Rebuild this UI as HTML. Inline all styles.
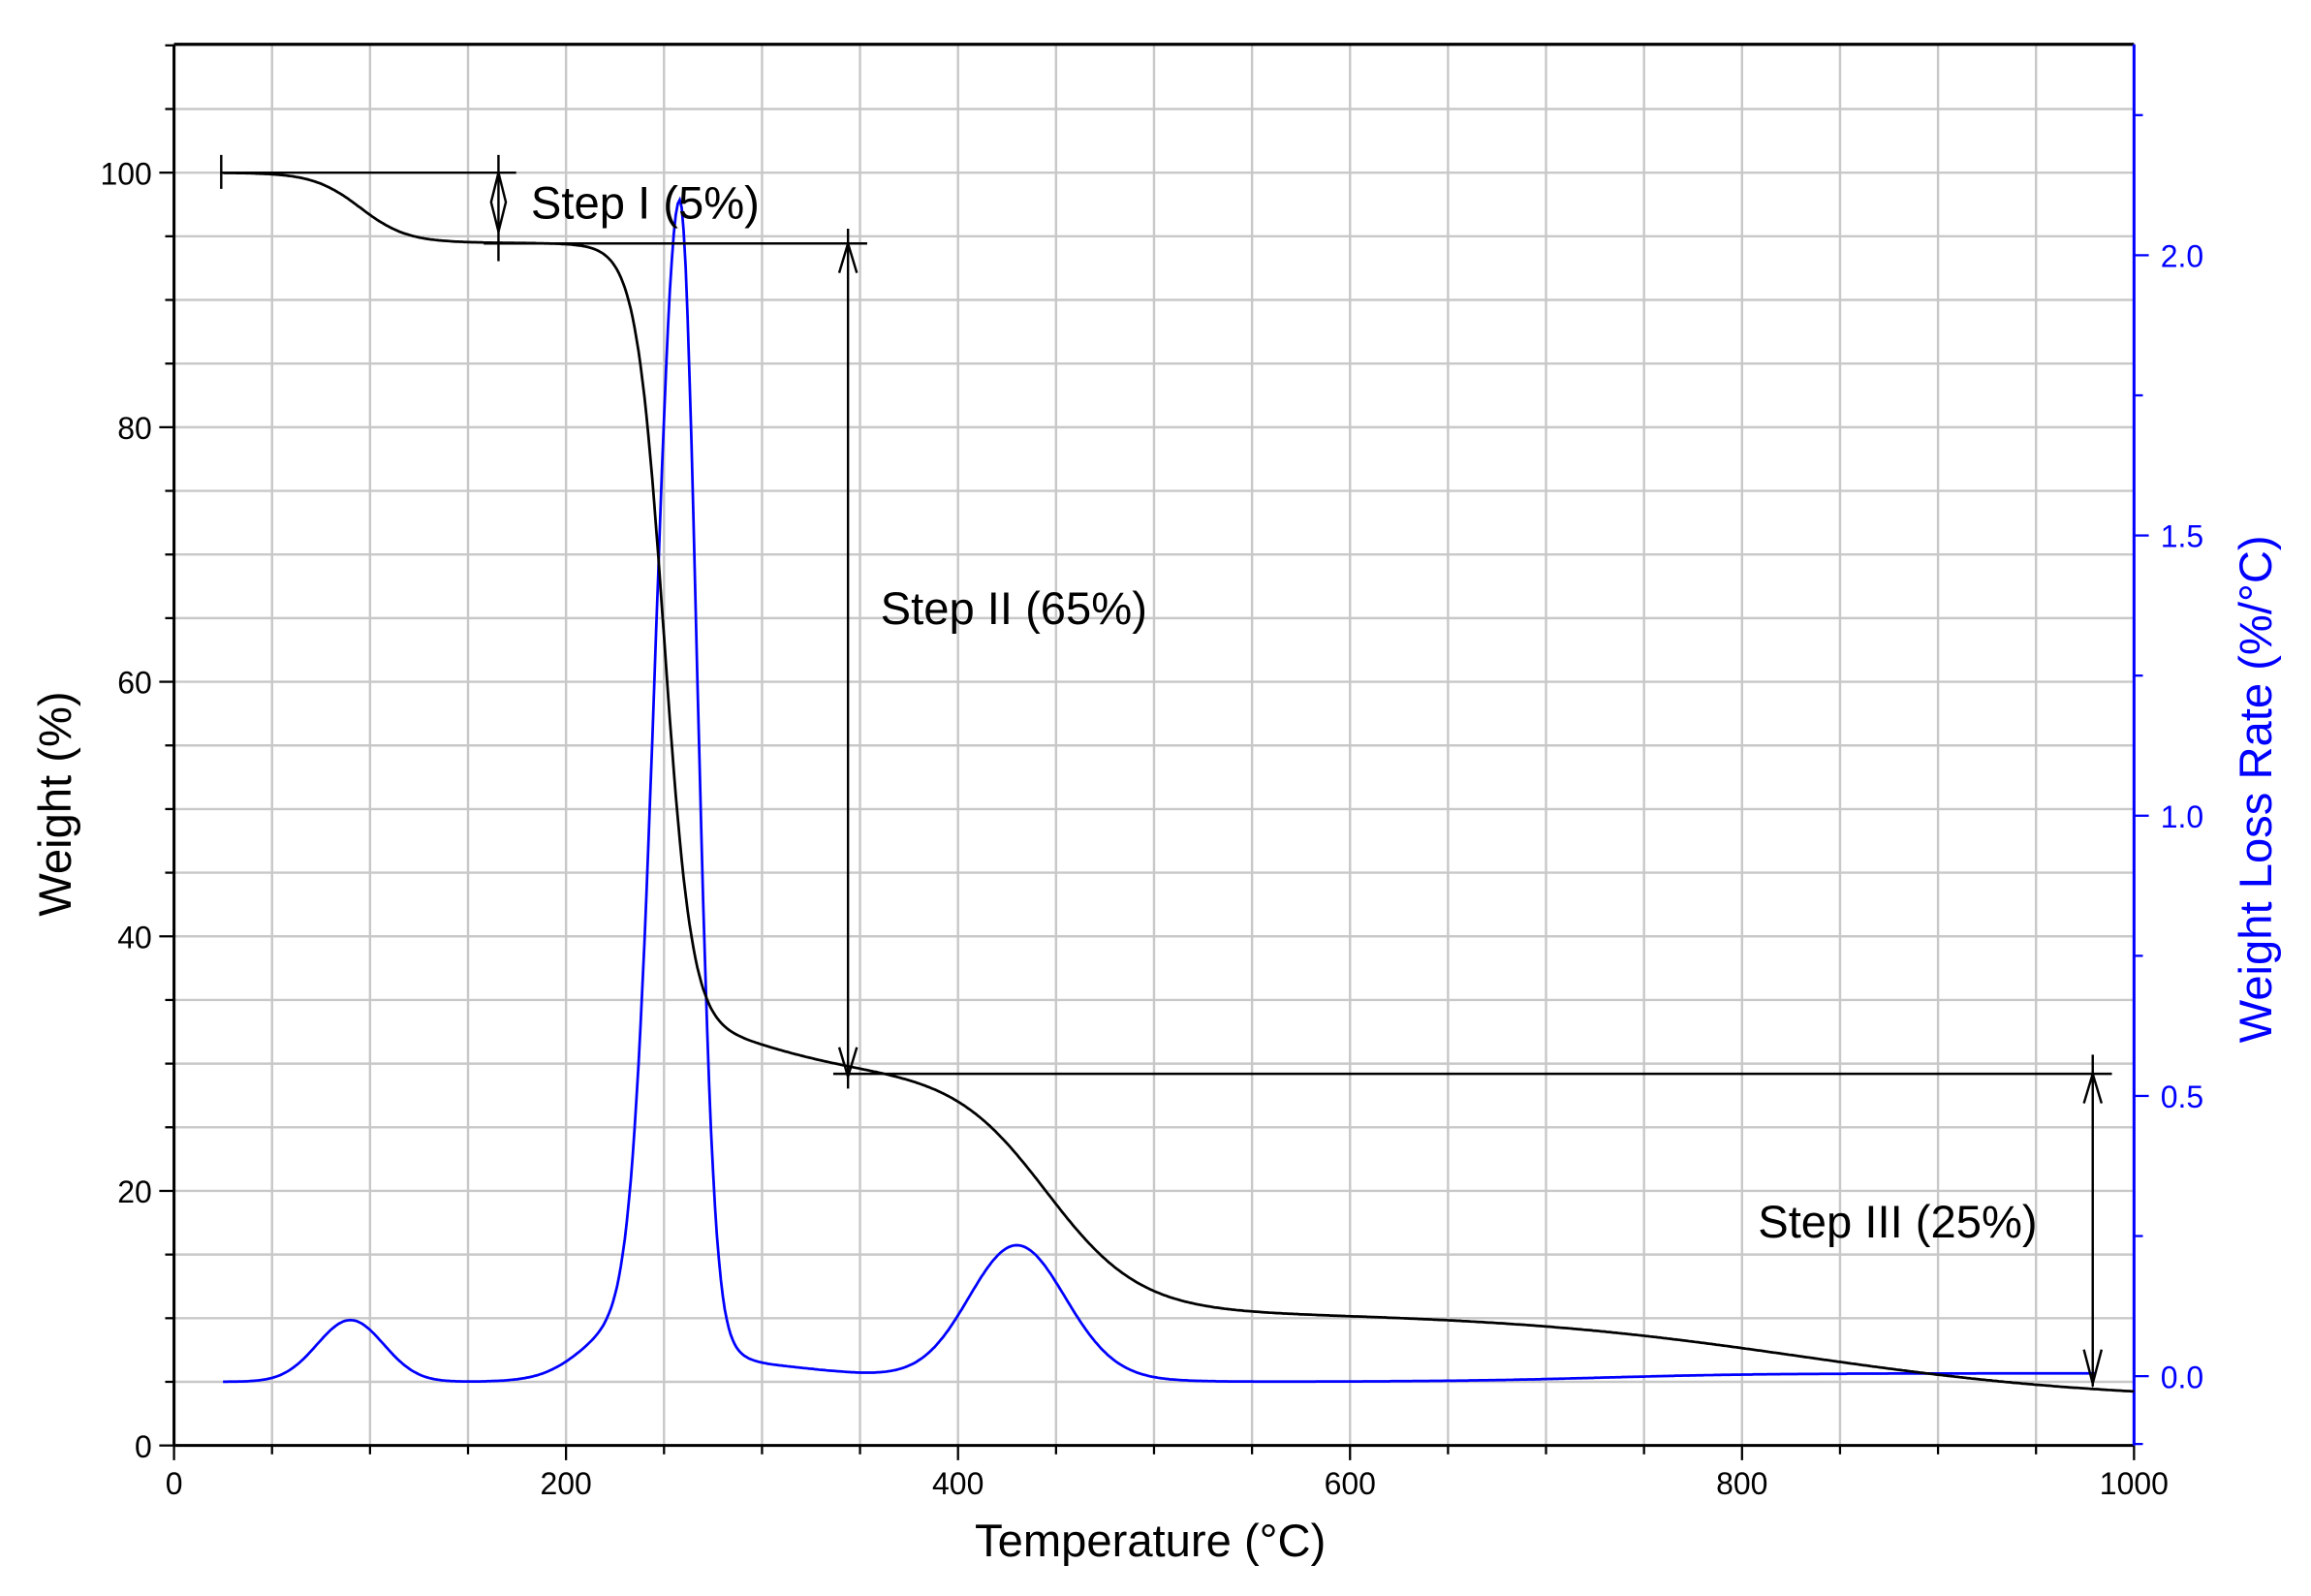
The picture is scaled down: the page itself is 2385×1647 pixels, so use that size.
<!DOCTYPE html>
<html><head><meta charset="utf-8"><style>
html,body{margin:0;padding:0;background:#fff;}
svg{display:block;}
text{font-family:"Liberation Sans",sans-serif;}
</style></head><body>
<svg id="s" width="2385" height="1647" viewBox="0 0 1567 1082" xmlns="http://www.w3.org/2000/svg">
<rect width="1567" height="1082" fill="#fff"/>
<g id="grid" stroke="#c8c8c8" stroke-width="1.6"></g>
<g id="ticks" stroke="#000" stroke-width="1.5"></g>
<g id="rticks" stroke="#0000ff" stroke-width="1.5"></g>
<line x1="118" y1="30" x2="1447" y2="30" stroke="#000" stroke-width="2.2"/>
<line x1="118" y1="30" x2="118" y2="980" stroke="#000" stroke-width="2"/>
<line x1="118" y1="980" x2="1447" y2="980" stroke="#000" stroke-width="2"/>
<line x1="1447" y1="30" x2="1447" y2="980" stroke="#0000ff" stroke-width="2"/>
<path id="dtg" fill="none" stroke="#0000ff" stroke-width="1.8"/>
<path id="tga" fill="none" stroke="#000" stroke-width="1.8"/>
<g stroke="#000" stroke-width="1.6" fill="none">
<line x1="150" y1="117" x2="350" y2="117"/>
<line x1="150" y1="105" x2="150" y2="128"/>
<line x1="328" y1="165" x2="588" y2="165"/>
<line x1="338" y1="105" x2="338" y2="177"/>
<path d="M338 117 L333 137 L338 157 L343 137 Z"/>
<line x1="575" y1="155" x2="575" y2="738"/>
<path d="M569 185 L575 165 L581 185 M569 710 L575 730 L581 710"/>
<line x1="565" y1="728" x2="1432" y2="728"/>
<line x1="1419" y1="715" x2="1419" y2="940"/>
<path d="M1413 748 L1419 728 L1425 748 M1413 915 L1419 938 L1425 915"/>
</g>
<g font-size="31" fill="#000">
<text x="360" y="148">Step I  (5%)</text>
<text x="597" y="423">Step II (65%)</text>
<text x="1192" y="839">Step III (25%)</text>
</g>
<g id="labels" font-size="21"></g>
<text x="780" y="1055" font-size="31" text-anchor="middle">Temperature (°C)</text>
<text transform="translate(48,545) rotate(-90)" font-size="31" text-anchor="middle">Weight (%)</text>
<text transform="translate(1540,535) rotate(-90)" font-size="31" text-anchor="middle" fill="#0000ff">Weight Loss Rate (%/°C)</text>
</svg>
<script>
var NS="http://www.w3.org/2000/svg";
function X(t){return 118+t*1.329;}
function YL(w){return 980-w*8.63;}
function YR(v){return 933-v*380;}
function el(p,tag,a,txt){var e=document.createElementNS(NS,tag);for(var k in a)e.setAttribute(k,a[k]);if(txt!==undefined)e.textContent=txt;document.getElementById(p).appendChild(e);}
for(var t=50;t<1000;t+=50)el("grid","line",{x1:X(t),y1:30,x2:X(t),y2:980});
for(var w=5;w<110;w+=5)el("grid","line",{x1:118,y1:YL(w),x2:1447,y2:YL(w)});
for(var t=0;t<=1000;t+=50){var m=t%200==0;el("ticks","line",{x1:X(t),y1:980,x2:X(t),y2:980+(m?10:6)});if(m)el("labels","text",{x:X(t),y:1013,"text-anchor":"middle"},String(t));}
for(var w=0;w<=110;w+=5){var m=w%20==0;el("ticks","line",{x1:118,y1:YL(w),x2:118-(m?10:6),y2:YL(w)});if(m&&w<=100)el("labels","text",{x:103,y:YL(w)+8,"text-anchor":"end"},String(w));}
for(var i=0;i<=9;i++){var v=i*0.25;var m=(i%2==0);el("rticks","line",{x1:1447,y1:YR(v),x2:1447+(m?10:6),y2:YR(v)});if(m)el("labels","text",{x:1465,y:YR(v)+8,fill:"#0000ff"},v.toFixed(1));}
el("rticks","line",{x1:1447,y1:979,x2:1453,y2:979});
function S(z){return 1/(1+Math.exp(-z));}
function G(t,c,s){return Math.exp(-0.5*Math.pow((t-c)/s,2));}
function AG(t,c,sl,sr){return G(t,c,t<c?sl:sr);}
function W(t){return 100-5.5*S((t-95)/12)-61*S((t-250)/7)-4*S((t-300)/25)-19*S((t-445)/24)-7*S((t-830)/80);}
function D(t){var b=-0.01+0.02*S((t-200)/8)+0.02*S((t-290)/6)-0.03*S((t-320)/20)+0.015*S((t-400)/10)-0.025*S((t-480)/15)+0.015*S((t-730)/40);
 return b+0.11*G(t,90,17)+1.92*AG(t,258,12,8.5)+0.17*AG(t,258,30,16)+0.22*G(t,430,24);}
var a="",b="";
for(var t=25;t<=1000;t+=1){a+=(t==25?"M":"L")+X(t).toFixed(1)+" "+YL(W(t)).toFixed(1);}
for(var t=25;t<=980;t+=1){b+=(t==25?"M":"L")+X(t).toFixed(1)+" "+YR(D(t)).toFixed(1);}
document.getElementById("tga").setAttribute("d",a);
document.getElementById("dtg").setAttribute("d",b);
</script>
</body></html>
